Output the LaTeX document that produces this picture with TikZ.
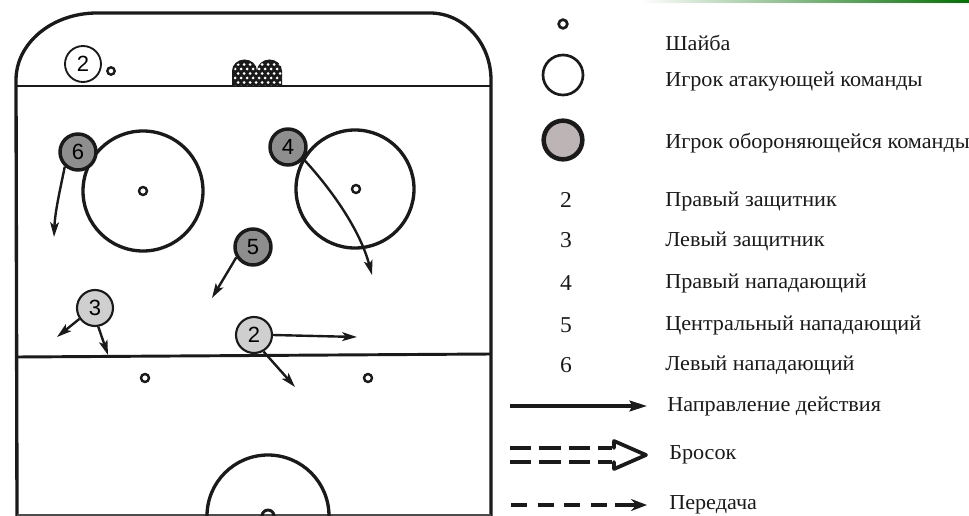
\documentclass[tikz,border=0pt]{standalone}
\usepackage{fontspec}
\setmainfont[FakeStretch=1.04]{Liberation Serif}
\newfontfamily\numfont{Liberation Sans}
\usetikzlibrary{arrows.meta}
\definecolor{defgray}{HTML}{8E8E8E}
\definecolor{attgray}{HTML}{CFCFCF}
\definecolor{leggray}{HTML}{BDB5B5}
\definecolor{inkc}{HTML}{1A1A1A}
\begin{document}
\begin{tikzpicture}[x=0.75pt,y=-0.75pt,
  rink/.style={line width=2.5pt,draw=inkc},
  thin rink/.style={line width=2.2pt,draw=inkc},
  spot/.style={circle,draw=inkc,line width=1.8pt,minimum size=6pt,inner sep=0pt,fill=white},
  attacker/.style={circle,draw=inkc,line width=1.4pt,minimum size=27pt,inner sep=0pt,fill=white,font=\numfont\fontsize{16.5}{16.5}\selectfont},
  lightdef/.style={attacker,fill=attgray,line width=1.6pt},
  darkdef/.style={attacker,fill=defgray,line width=2.6pt},
  act/.style={line width=1.8pt,draw=inkc,-{Stealth[length=11pt,width=6.5pt,inset=2.5pt]}},
  legtext/.style={anchor=west,font=\fontsize{16}{16}\selectfont,text=inkc,inner sep=0pt},
  legnum/.style={font=\fontsize{17}{17}\selectfont,text=inkc,inner sep=0pt}
]
\useasboundingbox (0,0) rectangle (969,516);
\shade[left color=white,right color=green!45!black] (640,0) rectangle (969,3);

% rink
\draw[rink,line join=round] (17,516) -- (16,80) arc[start angle=180,end angle=270,x radius=81,y radius=67]
  -- (430,13) arc[start angle=270,end angle=360,x radius=61,y radius=67] -- (491,516);
\draw[thin rink] (16,86) -- (491,86);
\draw[thin rink] (17,357) -- (491,354);
\draw[thin rink,draw=black!70] (17,515) -- (491,515);

% net
\fill[inkc] (232,86) -- (232,71) arc[start angle=180,end angle=360,x radius=12.5,y radius=11.5]
  arc[start angle=180,end angle=360,x radius=12.5,y radius=11.5] -- (282,86) -- cycle;
\begin{scope}
  \clip (234,86) -- (234,71) arc[start angle=180,end angle=360,x radius=10.5,y radius=9.5]
  arc[start angle=180,end angle=360,x radius=14.5,y radius=9.5] -- (280,86) -- cycle;
  \foreach \i in {0,...,9}{
    \foreach \j in {0,...,6}{
      \fill[white] ({229+\i*6+mod(\j,2)*3},{60+\j*4.5}) circle[radius=1.5];
    }
  }
\end{scope}

% faceoff circles
\draw[rink] (143,191) circle[radius=60];
\draw[rink] (355,189) circle[radius=59];
\node[spot] (fl) at (143,191) {};
\node[spot] (fr) at (356,189) {};
\node[spot] (nl) at (145,378) {};
\node[spot] (nr) at (368,378) {};
\draw[rink] (207,516) arc[start angle=180,end angle=360,radius=61];
\draw[thin rink] (262,516) arc[start angle=180,end angle=360,radius=6];

% players
\node[attacker] (p2t) at (83,64) {2};
\node[spot,minimum size=5.5pt] (puck) at (111,71) {};
\node[darkdef] (p6) at (78,152) {6};
\node[darkdef] (p4) at (288,147) {4};
\node[darkdef] (p5) at (253,247) {5};
\node[lightdef] (p3) at (95,308) {3};
\node[lightdef] (p2) at (254,335) {2};

\coordinate (e6) at (54,237);
\coordinate (e4) at (372,275);
\coordinate (e5) at (212,298);
\coordinate (e2a) at (357,337);
\coordinate (e2b) at (295,387);
\coordinate (e3a) at (57,337);
\coordinate (e3b) at (108,355);

\draw[act] (p6.228) .. controls (60,190) and (55,212) .. (e6);
\draw[act] (p4.322) .. controls (332,190) and (360,230) .. (e4);
\draw[act] (p5.212) -- (e5);
\draw[act] (p2.east) -- (e2a);
\draw[act] (p2.300) -- (e2b);
\draw[act] (p3.215) -- (e3a);
\draw[act] (p3.280) -- (e3b);

% legend
\node[spot,minimum size=6.5pt,line width=2pt] (lpuck) at (563,24) {};
\node[legtext] (tpuck) at (665,43) {Шайба};
\node[circle,draw=inkc,line width=2pt,minimum size=30pt,inner sep=0pt] (latt) at (563,75) {};
\node[legtext] (tatt) at (665,82) {Игрок атакующей команды};
\node[circle,draw=inkc,line width=3.4pt,minimum size=29pt,inner sep=0pt,fill=leggray] (ldef) at (563,140) {};
\node[legtext] (tdef) at (665,143) {Игрок обороняющейся команды};
\node[legnum] (n2) at (566,200) {2};
\node[legtext] (t2) at (665,201) {Правый защитник};
\node[legnum] (n3) at (566,240) {3};
\node[legtext] (t3) at (665,241) {Левый защитник};
\node[legnum] (n4) at (566,283) {4};
\node[legtext] (t4) at (665,283) {Правый нападающий};
\node[legnum] (n5) at (566,325) {5};
\node[legtext] (t5) at (665,325) {Центральный нападающий};
\node[legnum] (n6) at (566,365) {6};
\node[legtext] (t6) at (665,365) {Левый нападающий};

\coordinate (a1s) at (510,406); \coordinate (a1e) at (647,406);
\draw[line width=2.4pt,draw=inkc,-{Stealth[length=13pt,width=8pt,inset=2pt]}] (a1s) -- (a1e);
\node[legtext] (tdir) at (667,406) {Направление действия};

\draw[line width=3.2pt,draw=inkc,dash pattern=on 16pt off 6pt] (510,448) -- (612,448);
\draw[line width=3.2pt,draw=inkc,dash pattern=on 16pt off 6pt] (510,462) -- (612,462);
\draw[line width=2.8pt,draw=inkc,line join=round,line cap=round] (614,448) -- (614,441) -- (646,455) -- (614,469) -- (614,462);
\node[legtext] (tshot) at (669,455) {Бросок};

\draw[line width=3.2pt,draw=inkc,dash pattern=on 12pt off 8pt] (511,505) -- (608,505);
\draw[line width=3.2pt,draw=inkc,-{Stealth[length=12pt,width=9pt]}] (615,505) -- (647,505);
\node[legtext] (tpass) at (669,505) {Передача};
\end{tikzpicture}
\end{document}
